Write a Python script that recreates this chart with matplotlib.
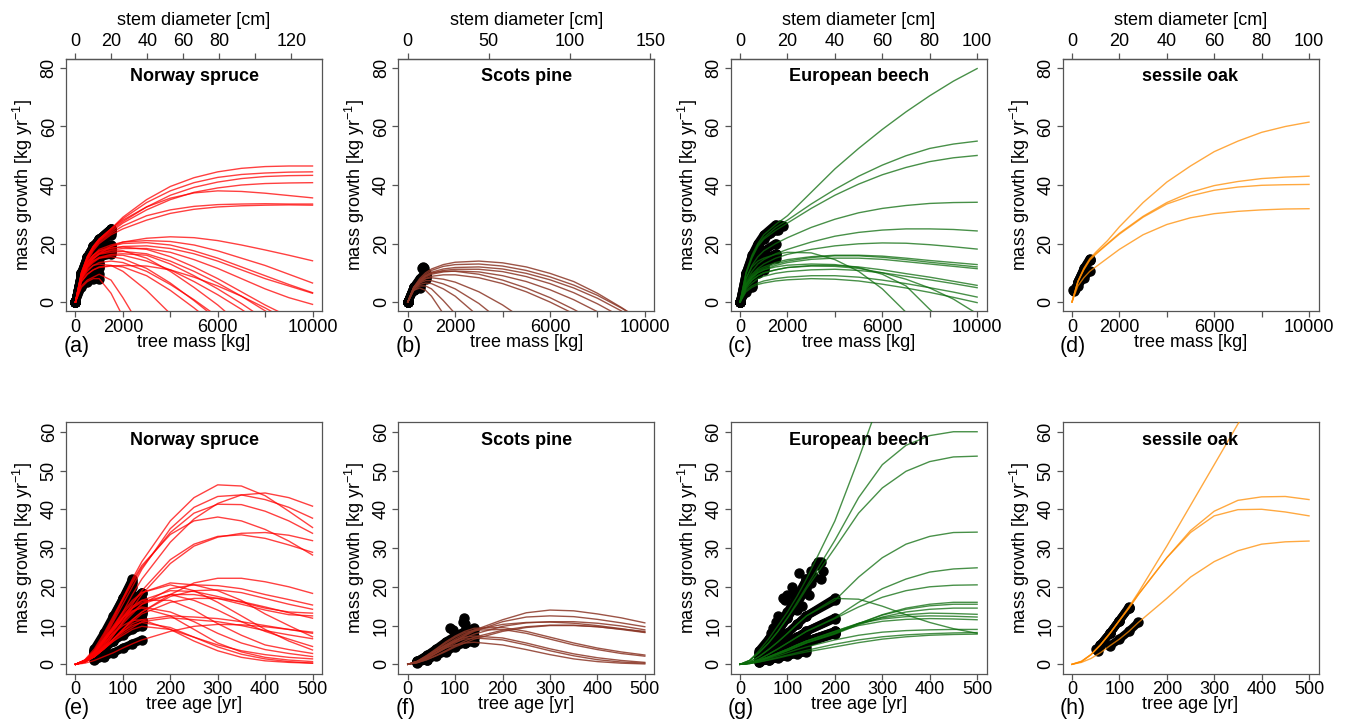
import matplotlib
matplotlib.use("Agg")
import matplotlib.pyplot as plt

plt.rcParams["font.family"] = ["Liberation Sans", "DejaVu Sans"]
plt.rcParams["mathtext.fontset"] = "custom"
plt.rcParams["mathtext.rm"] = "Liberation Sans"
plt.rcParams["mathtext.it"] = "Liberation Sans:italic"
plt.rcParams["mathtext.bf"] = "Liberation Sans:bold"

mass_kg = [0, 250, 500, 750, 1000, 1500, 2000, 3000, 4000, 5000, 6000, 7000, 8000, 9000, 10000]
age_yr = [0, 20, 40, 60, 80, 100, 120, 140, 200, 250, 300, 350, 400, 450, 500]

species = ["Norway spruce", "Scots pine", "European beech", "sessile oak"]
colors = ["#ff0000", "#8b3626", "#0b6b0b", "#ff8c00"]
alphas = [0.75, 0.85, 0.75, 0.75]
letters_top = ["(a)", "(b)", "(c)", "(d)"]
letters_bottom = ["(e)", "(f)", "(g)", "(h)"]

# top axis: stem diameter ticks
diam_ticks = [[0, 20, 40, 60, 80, 100, 120], [0, 50, 100, 150],
              [0, 20, 40, 60, 80, 100], [0, 20, 40, 60, 80, 100]]
diam_labels = [["0", "20", "40", "60", "80", "", "120"], ["0", "50", "100", "150"],
               ["0", "20", "40", "60", "80", "100"], ["0", "20", "40", "60", "80", "100"]]
cm_per_kg = [0.01317, 0.01465, 0.01, 0.01]

# ---------- Norway spruce ----------
spruce_mass = [
    [0, 10, 15.5, 19, 21.5, 25, 29, 35, 39.5, 42.5, 44.5, 45.7, 46.3, 46.5, 46.5],
    [0, 10, 15.5, 19, 21.5, 25, 28.5, 34, 38, 40.8, 42.6, 43.6, 44.1, 44.4, 44.5],
    [0, 9.5, 15, 18.5, 21, 24.5, 27.5, 32.5, 36.5, 39.2, 41, 42.2, 42.9, 43.2, 43.3],
    [0, 9.5, 15, 18.5, 21, 24, 27, 31.5, 35, 37.5, 39, 40, 40.5, 40.7, 40.8],
    [0, 10, 15.5, 19, 21.5, 25, 28, 32.5, 35.5, 37.3, 38, 37.8, 37.2, 36.4, 35.6],
    [0, 9.5, 14.5, 18, 20.5, 23.5, 26, 29.5, 31.5, 32.7, 33.3, 33.5, 33.6, 33.5, 33.5],
    [0, 9, 14, 17.5, 20, 23, 25, 28, 30.3, 31.7, 32.5, 32.9, 33.1, 33.2, 33.1],
    [0, 8, 12, 14.5, 16.5, 19, 20.5, 21.8, 22.3, 22, 21, 19.5, 17.8, 16, 14.1],
    [0, 9, 13.5, 16, 18, 19.5, 20.5, 21, 20.7, 19.5, 17.5, 15, 12.5, 9.5, 6.5],
    [0, 9, 13.5, 16, 17.5, 19, 20, 20.3, 19.5, 17.5, 15, 12, 9, 6, 3.2],
    [0, 8.5, 13, 15.5, 17, 18.3, 19, 19.2, 18.3, 16.5, 14, 11, 8, 5.5, 3.0],
    [0, 8.5, 12.5, 15, 16.5, 17.8, 18.3, 18.3, 17, 14.5, 11.5, 8, 4.5, 1.5, -0.8],
    [0, 9, 13.5, 16, 17.5, 18.5, 18.8, 18, 15.5, 12, 8, 3.5, -1, -5, -9],
    [0, 8.5, 12.5, 15, 16.3, 17, 17.3, 16.5, 14, 10.5, 6.5, 2, -3, -8, -13],
    [0, 8, 12, 14, 15.3, 16.3, 16.5, 16, 13, 9, 4.5, -0.5, -6, -12, -18],
    [0, 8.5, 12.5, 15, 16.5, 17.5, 17.5, 15, 10.5, 5, -1, -8, -15, -22, -30],
    [0, 7, 9.5, 11, 11.8, 12.3, 12.5, 12.3, 11, 8.5, 5.5, 2, -2, -6.5, -11.5],
    [0, 8.5, 12, 14, 15, 15.5, 14.8, 11.5, 6.5, 0.5, -6, -13, -20, -28, -36],
    [0, 7, 9.5, 11, 12, 12.5, 12, 9, 4, -2, -8.5, -15, -22, -30, -38],
    [0, 8, 11, 12.5, 13, 12.5, 10.5, 4, -4, -13, -22, -31, -40, -50, -60],
    [0, 5.5, 7.5, 8.5, 9.5, 7.5, 1.5, -12, -25, -40, -55, -70, -85, -100, -115],
    [0, 5, 7, 8, 8, 3, -5, -20, -35, -50, -65, -80, -95, -110, -125],
    [0, 7.5, 10.5, 12.5, 13.5, 14, 13.5, 10.5, 6, 0.8, -5, -11, -17.5, -24, -31],
    [0, 8, 11.5, 13.5, 15, 16, 16, 14, 11, 7, 2.5, -2.5, -8, -14, -20],
]
spruce_mass_obs_from = [0] * 24
spruce_mass_obs_to = [1500] * 16 + [1000] * 8
spruce_mass_extra_x = []
spruce_mass_extra_y = []

spruce_age = [
    [0, 1, 3.5, 7.5, 12, 17, 22, 26.5, 37, 43, 46.3, 46, 43.5, 39.5, 35.3],
    [0, 0.7, 2.5, 5.5, 9.5, 13.5, 18, 22, 31.5, 37.5, 41.5, 43.7, 44.2, 43, 40.8],
    [0, 1, 3, 6.5, 11, 15.5, 20, 24.5, 35, 40.5, 43.3, 43.7, 42.5, 40.5, 37.7],
    [0, 1, 3.5, 7, 11.5, 16.5, 21, 25, 34, 39, 41.3, 41.2, 39.5, 37, 33.8],
    [0, 1.2, 4, 8, 12.5, 17, 21.5, 25.5, 33.5, 37, 38, 37, 34.8, 31.8, 28.2],
    [0, 0.7, 2, 4.5, 7.5, 11, 14.5, 18, 26, 30.5, 32.8, 33.8, 34, 33.3, 31.9],
    [0, 0.8, 2.5, 5, 8.5, 12, 15.5, 19, 27, 31, 33, 33.4, 32.5, 30.8, 28.9],
    [0, 0.6, 2, 4, 6.5, 9, 11.5, 13.5, 18, 21, 22.2, 22.2, 21.3, 20, 18.3],
    [0, 1, 3, 6, 9.5, 13, 16, 18.5, 21, 20.5, 19, 16.5, 13, 10, 7.1],
    [0, 0.7, 2.2, 4.5, 7.5, 10.5, 13, 15.5, 19.5, 20.5, 20.3, 19.5, 18, 16.7, 15.3],
    [0, 0.6, 2, 4, 6.5, 9, 11.5, 13.5, 17.5, 19, 19.2, 18.5, 17, 15.5, 14.2],
    [0, 1, 3, 6, 9, 12, 14.5, 16.5, 19, 18.8, 17.5, 16, 14.5, 13.5, 13.2],
    [0, 0.8, 2.5, 5, 8, 11, 13.5, 15.5, 18, 18, 17, 15.5, 14, 12.8, 12.5],
    [0, 0.6, 2, 4, 6.5, 9, 11, 13, 16, 17, 17, 16.2, 14.8, 13.3, 11.9],
    [0, 1, 3, 6.5, 10, 13.5, 16.5, 18.5, 20.5, 19, 16, 12.5, 9, 6, 3.7],
    [0, 1, 3, 6, 9, 12, 14.5, 16, 18, 16.5, 14, 11, 8.5, 6.5, 4.6],
    [0, 0.6, 2, 4, 6, 8, 9.5, 11, 12, 11.5, 11, 10, 8.7, 7.6, 6.6],
    [0, 1, 3.2, 6.5, 9.5, 12.5, 15, 16.5, 16.5, 14, 10.5, 7.5, 5, 3.8, 2.8],
    [0, 1, 3, 6, 9, 11.5, 13.5, 14.8, 13.5, 11, 8, 5.5, 3.8, 2.8, 2.0],
    [0, 1, 3.2, 6.5, 9.5, 12, 13.8, 14.5, 12.5, 9, 5.5, 3.2, 1.8, 1.1, 0.7],
    [0, 1, 3, 5.5, 8, 10, 11.3, 11.5, 9, 6, 3.5, 1.8, 0.9, 0.5, 0.3],
    [0, 0.7, 2.2, 4.5, 6.5, 8.5, 10, 10.8, 9.5, 7, 4.5, 2.6, 1.4, 0.7, 0.3],
    [0, 0.7, 2.2, 4.5, 6.5, 8.5, 10.5, 11.5, 12.5, 12.2, 11.8, 11, 10, 9, 8],
    [0, 0.6, 2, 4, 6, 7.5, 9, 9.8, 9, 7, 5, 3.5, 2.5, 1.8, 1.4],
    [0, 0.3, 1, 2, 3, 4.2, 5.3, 6.3, 8.5, 9.8, 10.3, 10.2, 9.7, 9, 8.3],
]
spruce_age_obs_from = [40] * 25
spruce_age_obs_to = [120] * 7 + [140] * 18
spruce_age_extra_x = []
spruce_age_extra_y = []

# ---------- Scots pine ----------
pine_mass = [
    [0, 5, 8, 10, 11.3, 12.8, 13.6, 14, 13.4, 12, 9.8, 7, 3, -1.8, -7],
    [0, 5, 7.5, 9.5, 10.8, 12.2, 12.8, 13, 12.3, 10.8, 8.6, 5.8, 2.3, -2, -7],
    [0, 4.5, 7, 9, 10.2, 11.3, 11.8, 12, 11.3, 9.8, 7.6, 4.8, 1.3, -3, -8],
    [0, 4.5, 7, 8.8, 9.8, 10.8, 11.2, 11.2, 10.4, 8.7, 6.3, 3.2, -0.6, -5, -10],
    [0, 4.5, 7, 8.5, 9.5, 10.3, 10.6, 10.3, 9, 7, 4.2, 0.8, -3.3, -8, -13],
    [0, 5, 7.5, 9, 10, 10.5, 10.5, 9.5, 7.5, 4.8, 1.5, -2.5, -7, -12, -17],
    [0, 4.5, 6.5, 8, 8.8, 9.3, 9.3, 8.3, 6.3, 3.5, 0, -4, -9, -14, -19],
    [0, 5, 7, 8, 8.3, 7.8, 6.8, 3.5, -1, -6.5, -12, -18, -24, -30, -36],
    [0, 4.5, 6.5, 7.3, 7.3, 6.2, 4.5, -0.5, -7, -14, -21, -28, -35, -42, -49],
    [0, 4.5, 6, 6.5, 6.3, 4.5, 2, -5, -13, -21, -29, -37, -45, -53, -61],
    [0, 4, 5.5, 5.5, 4.5, 0.5, -4, -14, -24, -34, -44, -54, -64, -74, -84],
    [0, 4, 4.8, 4, 2, -4, -10, -22, -34, -46, -58, -70, -82, -94, -106],
]
pine_mass_obs_from = [0] * 12
pine_mass_obs_to = [750] * 7 + [500] * 5
pine_mass_extra_x = [620, 660, 700, 680]
pine_mass_extra_y = [11.5, 12, 11.5, 10.5]

pine_age = [
    [0, 0.5, 1.5, 3, 4.5, 6, 7.5, 8.8, 11.5, 13.3, 14, 13.8, 13, 12, 10.7],
    [0, 0.5, 1.5, 3, 4.5, 6, 7.3, 8.5, 11, 12.2, 12.5, 12.3, 11.6, 10.7, 9.7],
    [0, 0.5, 1.5, 2.8, 4.2, 5.5, 6.8, 7.8, 9.8, 10.7, 11, 11, 10.6, 9.9, 8.9],
    [0, 0.7, 2, 3.5, 5, 6.5, 7.8, 8.8, 10.3, 10.8, 10.9, 10.6, 10, 9.2, 8.3],
    [0, 0.5, 1.2, 2.3, 3.5, 4.8, 6, 7, 8.8, 9.7, 10.1, 10.1, 9.7, 9, 8.2],
    [0, 0.4, 1.2, 2.2, 3.3, 4.5, 5.5, 6.5, 8.5, 9.5, 10, 10, 9.7, 9.1, 8.5],
    [0, 0.8, 2.3, 4, 5.8, 7.3, 8.5, 9.3, 9.5, 8.5, 7, 5.5, 4.2, 3.2, 2.4],
    [0, 0.8, 2.2, 3.8, 5.5, 7, 8.2, 8.8, 9, 8, 6.5, 5, 3.8, 2.8, 2.1],
    [0, 0.7, 2, 3.5, 4.8, 5.8, 6.5, 6.8, 6.3, 5, 3.5, 2.2, 1.2, 0.6, 0.3],
    [0, 0.6, 1.7, 3, 4.2, 5, 5.5, 5.7, 5, 3.8, 2.5, 1.4, 0.7, 0.3, 0.1],
    [0, 0.7, 2, 3.5, 5, 6.2, 7, 7.3, 6.8, 5.5, 4, 2.7, 1.7, 1, 0.5],
]
pine_age_obs_from = [20] * 11
pine_age_obs_to = [120] * 6 + [140] * 5
pine_age_extra_x = [88, 95, 116, 118, 120]
pine_age_extra_y = [9.5, 8.8, 11, 12, 10.5]

# ---------- European beech ----------
beech_mass = [
    [0, 10, 16, 20, 23, 26.5, 29.5, 37.5, 45.5, 52.5, 59, 65, 70.5, 75.5, 79.8],
    [0, 10, 15.5, 19.5, 22, 25.5, 28, 33.5, 38.5, 43, 46.8, 50, 52.5, 54, 55],
    [0, 9.5, 15, 19, 21.5, 24.5, 27, 32, 36.5, 40.3, 43.5, 46, 48, 49.3, 50.1],
    [0, 8, 12.5, 15.5, 17.5, 20, 22, 25.5, 28.3, 30.5, 32, 33, 33.7, 34, 34.1],
    [0, 7, 10.5, 13, 14.5, 16.5, 18, 20.5, 22.5, 23.8, 24.6, 25, 25, 24.8, 24.3],
    [0, 6.5, 9.5, 11.5, 13, 15, 16.3, 18, 19.2, 19.9, 20.2, 20.1, 19.6, 18.9, 18.1],
    [0, 6, 9, 11, 12, 13.5, 14.5, 15.5, 16, 16, 15.7, 15, 14.2, 13.5, 12.8],
    [0, 6, 8.5, 10.5, 11.5, 13, 14, 15.2, 15.8, 15.8, 15.3, 14.5, 13.6, 12.8, 12.0],
    [0, 5.5, 8, 10, 11, 12.5, 13.5, 14.6, 15, 15, 14.6, 13.8, 13, 12.2, 11.4],
    [0, 5, 7.5, 9, 10, 11, 11.8, 12.5, 12.5, 12, 11, 9.7, 8.5, 7.1, 5.7],
    [0, 4.5, 6.5, 8, 8.8, 9.8, 10.4, 11, 11.2, 10.8, 10, 8.8, 7.6, 6.3, 4.9],
    [0, 4, 5.5, 6.5, 7.2, 8, 8.5, 9, 9, 8.5, 7.5, 6.3, 4.9, 3.4, 1.7],
    [0, 3.5, 5, 6, 6.5, 7.2, 7.6, 8, 7.8, 7.2, 6.1, 4.8, 3.3, 1.6, -0.2],
    [0, 8, 12, 14, 15, 16.3, 17, 16.8, 14.5, 10.5, 4.5, -3.5, -12, -22, -32],
    [0, 6, 8.5, 10, 11, 12, 12.6, 13, 12.8, 11.8, 9.5, 5.5, -2.5, -10, -18],
    [0, 5, 7.5, 9, 10, 11, 11.8, 12.3, 12.2, 11.5, 10, 7.8, 4.8, 1, -4],
]
beech_mass_obs_from = [0] * 16
beech_mass_obs_to = [1500] * 6 + [1000] * 3 + [500] * 4 + [1500, 500, 500]
beech_mass_extra_x = [1250, 1600, 1700, 1800]
beech_mass_extra_y = [23.5, 24.5, 26.5, 26]

beech_age = [
    [0, 1, 3.5, 6.5, 10, 13.5, 17.5, 22, 37, 53, 70, 88, 106, 124, 142],
    [0, 1, 3, 5.5, 8.5, 12, 16, 20, 32, 43, 51.5, 56.5, 59, 60, 60],
    [0, 1, 3, 5.5, 8.5, 12, 15.5, 19.5, 30, 39, 45.5, 49.8, 52.3, 53.5, 53.7],
    [0, 0.6, 2, 3.8, 5.8, 8, 10.3, 12.5, 16.5, 22.5, 27.5, 31, 33, 34, 34.1],
    [0, 0.4, 1.3, 2.6, 4, 5.5, 7, 8.5, 12, 16, 19.5, 22, 23.8, 24.6, 24.9],
    [0, 0.4, 1.3, 2.6, 4, 5.5, 7, 8.5, 11.8, 14.8, 17.3, 19, 20, 20.4, 20.5],
    [0, 0.6, 2, 3.8, 5.8, 8, 10.3, 12.5, 17, 16.8, 15, 12.8, 10.8, 9.2, 8],
    [0, 0.3, 1, 1.8, 2.7, 3.6, 4.6, 5.6, 8, 10.5, 12.8, 14.5, 15.5, 16, 16],
    [0, 0.3, 1, 1.8, 2.7, 3.6, 4.6, 5.6, 8, 10.5, 12.7, 14.2, 15.1, 15.5, 15.5],
    [0, 0.3, 0.9, 1.7, 2.6, 3.5, 4.5, 5.5, 7.8, 10.2, 12.2, 13.5, 14.2, 14.5, 14.5],
    [0, 0.3, 1, 1.9, 2.9, 3.9, 5, 6, 8.5, 10.6, 12, 12.8, 13.2, 13.1, 12.9],
    [0, 0.3, 1, 1.9, 2.9, 3.9, 5, 6, 8.5, 10.5, 11.7, 12.3, 12.5, 12.4, 12.2],
    [0, 0.3, 1, 1.9, 2.9, 3.9, 5, 6, 8.3, 10, 11.1, 11.6, 11.8, 11.7, 11.5],
    [0, 0.2, 0.8, 1.5, 2.2, 3, 3.8, 4.5, 6.3, 7.5, 8.3, 8.7, 8.9, 9, 9],
    [0, 0.2, 0.6, 1.2, 1.8, 2.4, 3, 3.6, 5.2, 6.3, 7.1, 7.6, 7.9, 8.1, 8.2],
    [0, 0.2, 0.6, 1.1, 1.6, 2.2, 2.7, 3.2, 4.5, 5.6, 6.5, 7.1, 7.5, 7.7, 7.8],
]
beech_age_obs_from = [40] * 16
beech_age_obs_to = [140] * 3 + [200] * 10 + [140] * 3
beech_age_extra_x = [60, 65, 70, 75, 80, 85, 90, 95, 100, 105, 110, 115, 120, 120, 125,
                     130, 130, 135, 140, 145, 150, 150, 155, 160, 165, 170, 170, 175]
beech_age_extra_y = [6, 8, 9.5, 11, 12.5, 12, 17, 16.5, 18, 14, 20, 18.5, 16, 14, 23.5,
                     19, 15, 20.5, 22, 18, 24, 21, 22.5, 25.5, 26.5, 26.5, 22, 24]

# ---------- sessile oak ----------
oak_mass = [
    [0, 7, 11.5, 14.8, 17, 21, 25.7, 34, 41, 46.5, 51.4, 55, 58, 60, 61.5],
    [0, 7, 11.3, 14.5, 16.5, 20, 23.5, 29.3, 34, 37.5, 39.8, 41.2, 42.2, 42.7, 43],
    [0, 7, 11, 14.3, 16.3, 19.8, 23.2, 29, 33.5, 36.3, 38.2, 39.3, 39.9, 40.1, 40.2],
    [0, 5.5, 8.3, 10.5, 12, 15, 18, 23, 26.5, 28.8, 30.2, 31, 31.5, 31.8, 31.9],
]
oak_mass_obs_from = [250] * 4
oak_mass_obs_to = [750] * 4
oak_mass_extra_x = [50, 100, 120, 150]
oak_mass_extra_y = [4, 3.8, 4.5, 5]

oak_age = [
    [0, 0.8, 2.5, 5, 8, 11.3, 14.8, 18.5, 30.5, 41, 51.5, 62, 72, 82, 92],
    [0, 0.7, 2.5, 5, 8, 11.3, 14.5, 18, 27.5, 34.5, 39.5, 42.3, 43.2, 43.3, 42.5],
    [0, 0.7, 2.5, 5, 8, 11.3, 14.5, 18, 27.5, 34, 38.3, 39.9, 40, 39.3, 38.3],
    [0, 0.5, 1.5, 3, 4.8, 6.5, 8.5, 10.8, 17, 22.5, 26.5, 29.3, 31, 31.6, 31.8],
]
oak_age_obs_from = [60, 60, 60, 80]
oak_age_obs_to = [120, 120, 120, 140]
oak_age_extra_x = [50, 55]
oak_age_extra_y = [4, 3.5]

top_rows = [
    (spruce_mass, spruce_mass_obs_from, spruce_mass_obs_to, spruce_mass_extra_x, spruce_mass_extra_y),
    (pine_mass, pine_mass_obs_from, pine_mass_obs_to, pine_mass_extra_x, pine_mass_extra_y),
    (beech_mass, beech_mass_obs_from, beech_mass_obs_to, beech_mass_extra_x, beech_mass_extra_y),
    (oak_mass, oak_mass_obs_from, oak_mass_obs_to, oak_mass_extra_x, oak_mass_extra_y),
]
bottom_rows = [
    (spruce_age, spruce_age_obs_from, spruce_age_obs_to, spruce_age_extra_x, spruce_age_extra_y),
    (pine_age, pine_age_obs_from, pine_age_obs_to, pine_age_extra_x, pine_age_extra_y),
    (beech_age, beech_age_obs_from, beech_age_obs_to, beech_age_extra_x, beech_age_extra_y),
    (oak_age, oak_age_obs_from, oak_age_obs_to, oak_age_extra_x, oak_age_extra_y),
]

FS = 13
FRAME = "#555555"
YLABEL = "mass growth [kg yr$^{-1}$]"


def draw_panel(ax, knots, curves, obs_from, obs_to, ex, ey, color, alpha):
    # observations: black dots along the first part of each tree's curve
    for ys, a, b in zip(curves, obs_from, obs_to):
        ox = [x for x in knots if a <= x <= b]
        oy = [y for x, y in zip(knots, ys) if a <= x <= b]
        ax.plot(ox, oy, color="black", lw=6, solid_capstyle="round", zorder=2)
        ax.plot(ox, oy, "o", color="black", ms=6.5, zorder=2)
    if ex:
        ax.plot(ex, ey, "o", color="black", ms=6.5, zorder=2)
    for ys in curves:
        ax.plot(knots, ys, color=color, lw=1.0, alpha=alpha, zorder=3)


def style_axes(ax, title, letter, xlabel, letter_y):
    for s in ax.spines.values():
        s.set_color(FRAME)
        s.set_linewidth(0.9)
    ax.tick_params(axis="both", direction="out", length=4, width=0.9, color=FRAME,
                   labelsize=FS, top=False, right=False)
    ax.tick_params(axis="x", pad=1.5)
    ax.tick_params(axis="y", pad=2)
    for lab in ax.get_yticklabels():
        lab.set_rotation(90)
        lab.set_va("center")
    ax.set_xlabel(xlabel, fontsize=FS, va="center")
    ax.xaxis.set_label_coords(0.5, -0.123)
    ax.set_ylabel(YLABEL, fontsize=FS, va="center")
    ax.yaxis.set_label_coords(-0.168, 0.5)
    ax.text(0.5, 0.93, title, transform=ax.transAxes, ha="center", va="center",
            fontsize=FS, fontweight="bold")
    ax.text(-0.01, letter_y, letter, transform=ax.transAxes, ha="left", va="center",
            fontsize=15.5)


fig = plt.figure(figsize=(13.46, 7.21), dpi=100)
lefts = [66 / 1346, 398.3 / 1346, 730.6 / 1346, 1062.5 / 1346]
width = 256 / 1346

for i in range(4):
    # top row: growth against tree mass
    ax = fig.add_axes([lefts[i], 0.5681, width, 0.3506])
    curves, ofrom, oto, ex, ey = top_rows[i]
    draw_panel(ax, mass_kg, curves, ofrom, oto, ex, ey, colors[i], alphas[i])
    ax.set_xlim(-400, 10400)
    ax.set_ylim(-3.2, 83.2)
    ax.set_xticks([0, 2000, 4000, 6000, 8000, 10000])
    ax.set_xticklabels(["0", "2000", "", "6000", "", "10000"])
    ax.set_yticks([0, 20, 40, 60, 80])
    style_axes(ax, species[i], letters_top[i], "tree mass [kg]", -0.14)

    k = cm_per_kg[i]
    sec = ax.secondary_xaxis("top", functions=(lambda m, k=k: m * k, lambda d, k=k: d / k))
    sec.set_xticks(diam_ticks[i])
    sec.set_xticklabels(diam_labels[i])
    sec.tick_params(direction="out", length=4, width=0.9, color=FRAME, labelsize=FS, pad=2)
    sec.spines["top"].set_color(FRAME)
    sec.spines["top"].set_linewidth(0.9)
    ax.text(0.5, 1.15, "stem diameter [cm]", transform=ax.transAxes, ha="center",
            va="center", fontsize=FS)

    # bottom row: growth against tree age
    ax = fig.add_axes([lefts[i], 0.0657, width, 0.3484])
    curves, ofrom, oto, ex, ey = bottom_rows[i]
    draw_panel(ax, age_yr, curves, ofrom, oto, ex, ey, colors[i], alphas[i])
    ax.set_xlim(-20, 520)
    ax.set_ylim(-2.4, 62.4)
    ax.set_xticks([0, 100, 200, 300, 400, 500])
    ax.set_yticks([0, 10, 20, 30, 40, 50, 60])
    style_axes(ax, species[i], letters_bottom[i], "tree age [yr]", -0.138)

fig.savefig("out.png", dpi=100)
